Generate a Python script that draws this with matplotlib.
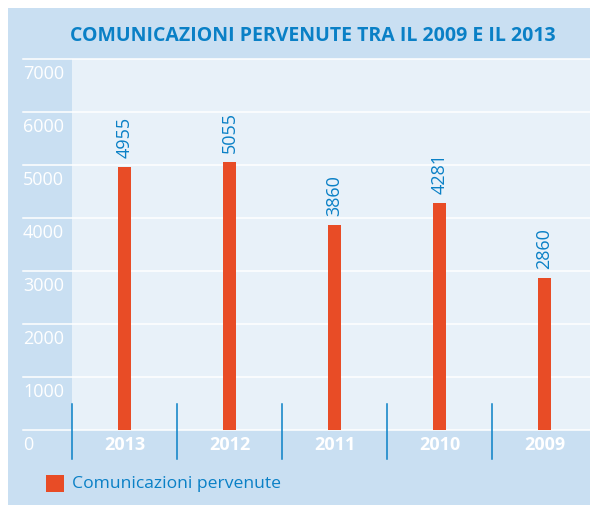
import matplotlib.pyplot as plt
from matplotlib.patches import Rectangle
from matplotlib import transforms

# dati
anni = ['2013', '2012', '2011', '2010', '2009']
comunicazioni = [4955, 5055, 3860, 4281, 2860]
y_ticks = [0, 1000, 2000, 3000, 4000, 5000, 6000, 7000]
titolo = 'COMUNICAZIONI PERVENUTE TRA IL 2009 E IL 2013'
legenda = 'Comunicazioni pervenute'

W, H = 590, 505
pannello = '#c9dff2'
area = '#e8f1f9'
rosso = '#e84c26'
blu = '#0a80c6'

plt.rcParams['font.family'] = ['Open Sans', 'DejaVu Sans']

fig = plt.figure(figsize=(W / 100, H / 100), dpi=100)
fig.patch.set_facecolor('white')
fig.patches.append(Rectangle((8 / W, 0), 1 - 8 / W, 1 - 8 / H,
                             transform=fig.transFigure, facecolor=pannello,
                             edgecolor='none', zorder=-1))

# area del grafico
ax = fig.add_axes([72 / W, (H - 430) / H, (W - 72) / W, (430 - 59) / H])
ax.set_facecolor(area)
ax.set_xlim(-0.5, -0.5 + (W - 72) / 105)
ax.set_ylim(0, 7000)
for s in ax.spines.values():
    s.set_visible(False)
ax.set_xticks([])
ax.set_yticks([])

x = range(len(anni))
ax.bar(x, comunicazioni, width=0.124, color=rosso, zorder=3)

# griglia bianca e etichette asse y
left = (23 - 72) / (W - 72)
lab_tr = transforms.offset_copy(ax.get_yaxis_transform(), fig=fig, y=-15, units='dots')
for v in y_ticks:
    ax.axhline(v, xmin=left, xmax=1, color='white', lw=1.1, clip_on=False, zorder=2)
    ax.text(left, v, str(v), transform=lab_tr, color='white', fontsize=13,
            ha='left', va='center')

# valori sopra le barre
for i, v in enumerate(comunicazioni):
    ax.annotate(str(v), (i, v), xytext=(0, 9), textcoords='offset pixels',
                rotation=90, ha='center', va='bottom', color=blu, fontsize=13)

# anni e separatori
sep_tr = transforms.blended_transform_factory(ax.transData, ax.transAxes)
for i, a in enumerate(anni):
    ax.text(i, -15 / 371, a, transform=sep_tr, color='white', fontsize=13,
            fontweight='bold', ha='center', va='center')
    ax.plot([i - 0.5, i - 0.5], [26 / 371, -29 / 371], transform=sep_tr,
            color=blu, lw=1.1, clip_on=False, zorder=4)

fig.text(313 / W, 1 - 36 / H, titolo, color=blu, fontsize=14, fontweight='bold',
         ha='center', va='center')

# legenda
fig.patches.append(Rectangle((46 / W, 1 - 492 / H), 18 / W, 17 / H,
                             transform=fig.transFigure, facecolor=rosso,
                             edgecolor='none', zorder=1))
fig.text(72 / W, 1 - 484 / H, legenda, color=blu, fontsize=12.6,
         ha='left', va='center')

fig.savefig('out.png', dpi=100)
